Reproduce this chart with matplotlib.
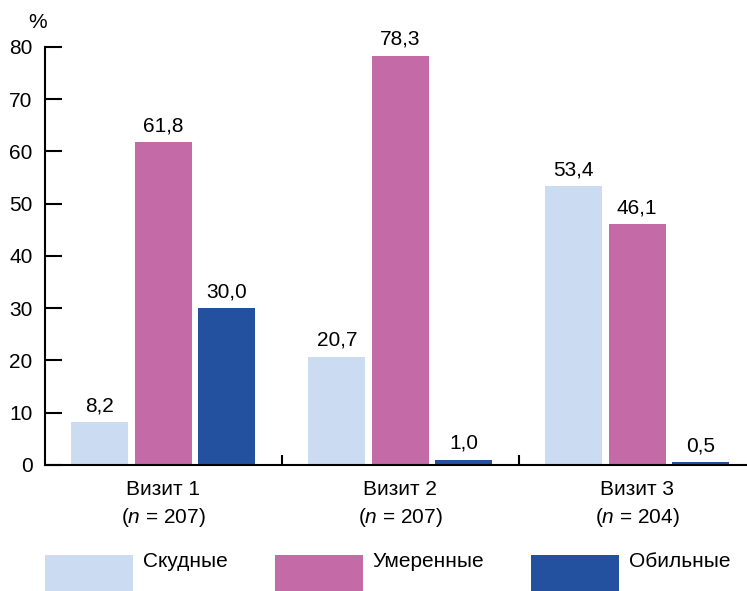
import matplotlib
matplotlib.use('Agg')
import numpy as np
import matplotlib.pyplot as plt
import matplotlib.transforms as mtransforms

plt.rcParams['font.family'] = ['Liberation Sans', 'DejaVu Sans']
plt.rcParams['mathtext.fontset'] = 'custom'
plt.rcParams['mathtext.it'] = 'Liberation Sans:italic'
plt.rcParams['mathtext.rm'] = 'Liberation Sans'

visits = ['Визит 1\n($\\it{n}$ = 207)', 'Визит 2\n($\\it{n}$ = 207)', 'Визит 3\n($\\it{n}$ = 204)']
series = ['Скудные', 'Умеренные', 'Обильные']
scanty = [8.2, 20.7, 53.4]
moderate = [61.8, 78.3, 46.1]
heavy = [30.0, 1.0, 0.5]
colors = ['#cbdbf1', '#c46aa6', '#2351a0']

fs = 15

fig = plt.figure(figsize=(7.47, 5.91), dpi=100)
ax = fig.add_axes([0.0602, 0.2132, 0.9398, 0.7073])

x = np.arange(len(visits))
w = 0.24
step = 0.268
for i, (vals, name, c) in enumerate(zip([scanty, moderate, heavy], series, colors)):
    bars = ax.bar(x + (i - 1) * step, vals, w, color=c, label=name)
    ax.bar_label(bars, labels=[f'{v:.1f}'.replace('.', ',') for v in vals],
                 padding=5, fontsize=fs)

ax.set_xlim(-0.5, 2.464)
ax.set_ylim(0, 80)
ax.set_yticks(range(0, 81, 10))
ax.set_xticks(x)
ax.set_xticklabels(visits, fontsize=fs, linespacing=1.4)
ax.set_xticks([0.5, 1.5], minor=True)

for s in ['top', 'right']:
    ax.spines[s].set_visible(False)
for s in ['left', 'bottom']:
    ax.spines[s].set_linewidth(1.5)

ax.tick_params(axis='y', direction='in', length=12, width=1.5, pad=9, labelsize=fs)
ax.tick_params(axis='x', which='major', length=0, pad=11)
ax.tick_params(axis='x', which='minor', direction='in', length=7, width=1.5)

trans = mtransforms.blended_transform_factory(ax.transAxes, ax.transData)
ax.text(-0.011, 84.6, '%', transform=trans, ha='center', va='center', fontsize=fs, clip_on=False)

leg = fig.legend(loc='lower left', bbox_to_anchor=(0.06, -0.012), ncol=3, frameon=False,
                 fontsize=fs, handlelength=4.23, handleheight=2.8, handletextpad=0.48,
                 columnspacing=2.25, borderpad=0, borderaxespad=0)
# lift the legend texts a little above the centre of the swatches
for t in leg.get_texts():
    t.set_y(16)

fig.savefig('out.png', dpi=100)
